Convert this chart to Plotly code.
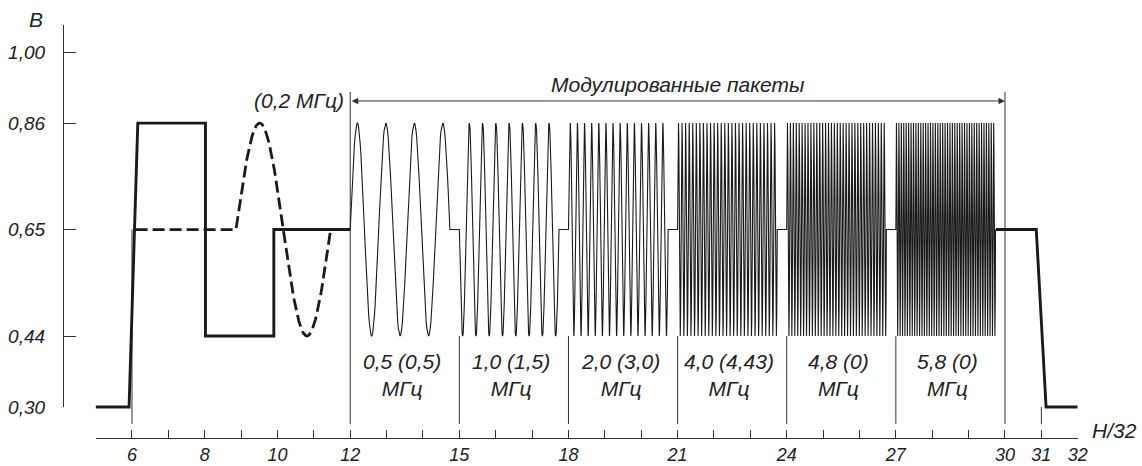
import numpy as np
import plotly.graph_objects as go

# ---------------- data ----------------
y_tick_vals = [0.30, 0.44, 0.65, 0.86, 1.00]
y_tick_text = ["0,30", "0,44", "0,65", "0,86", "1,00"]
x_tick_vals = list(range(5, 33))
x_labeled = [6, 8, 10, 12, 15, 18, 21, 24, 27, 30, 31, 32]

# thick solid signal (luminance steps) before and after packets
solid_start_x = [5.0, 5.92, 6.16, 8.02, 8.02, 9.9, 9.9, 12.0]
solid_start_y = [0.30, 0.30, 0.86, 0.86, 0.44, 0.44, 0.65, 0.65]
solid_end_x = [29.75, 30.86, 31.13, 32.0]
solid_end_y = [0.65, 0.65, 0.30, 0.30]

# dashed 0.2 MHz burst
dash_flat_x = [6.1, 8.86]
dash_level = 0.65
dash_sine_start = 8.86
dash_sine_period = 2.6
dash_sine_amp = 0.21

# modulated packets
packet_start = [12, 15, 18, 21, 24, 27]
packet_len = 2.74
packet_cycles = [3.5, 7.5, 14, 28, 34, 41]
packet_sign = [1, -1, 1, 1, 1, 1]
packet_level = 0.65
packet_amp = 0.21
packet_labels = ["0,5 (0,5)", "1,0 (1,5)", "2,0 (3,0)", "4,0 (4,43)", "4,8 (0)", "5,8 (0)"]

# thin vertical dividers
divider_x = [6, 12, 15, 18, 21, 24, 27, 30, 31]
divider_top = [0.65, 0.9213, 0.44, 0.44, 0.44, 0.44, 0.44, 0.9213, 0.30]
divider_bottom = 0.2665

arrow_y = 0.9036

# ---------------- geometry ----------------
W, H = 1142, 466
X0PX, XSCALE = 95.6, 36.375
Y030PX, YSCALE = 407.0, 507.0
XAXIS_PX = 438
x_dom = [X0PX / W, (X0PX + 27 * XSCALE) / W]
y_bot = 0.30 - (XAXIS_PX - Y030PX) / YSCALE
y_top = 0.30 + (Y030PX - 25) / YSCALE
y_dom = [(H - XAXIS_PX) / H, (H - 25) / H]
y2_dom = [(H - Y030PX) / H, (H - 25) / H]

FONT = "Liberation Sans, Arial, sans-serif"
TXT = "#222222"
fs_tick = 19
fs_xtick = 18
fs_ann = 21

# ---------------- build curves ----------------
pk_x, pk_y = [], []
for i, s in enumerate(packet_start):
    n = int(packet_cycles[i] * 48) + 1
    xs = np.linspace(s, s + packet_len, n)
    ys = packet_level + packet_sign[i] * packet_amp * np.sin(
        2 * np.pi * packet_cycles[i] * (xs - s) / packet_len)
    pk_x.extend(xs.tolist())
    pk_y.extend(ys.tolist())
    if i + 1 < len(packet_start):
        pk_x.append(packet_start[i + 1])
        pk_y.append(packet_level)

ds_x = np.linspace(dash_sine_start, dash_sine_start + dash_sine_period, 120)
ds_y = dash_level + dash_sine_amp * np.sin(2 * np.pi * (ds_x - dash_sine_start) / dash_sine_period)
dash_x = [dash_flat_x[0]] + ds_x.tolist()
dash_y = [dash_level] + ds_y.tolist()

dv_x, dv_y = [], []
for xv, top in zip(divider_x, divider_top):
    dv_x += [xv, xv, None]
    dv_y += [top, divider_bottom, None]

fig = go.Figure()
fig.add_trace(go.Scatter(x=dv_x, y=dv_y, mode="lines",
                         line=dict(color="#333333", width=1), hoverinfo="skip"))
fig.add_trace(go.Scatter(x=pk_x, y=pk_y, mode="lines",
                         line=dict(color="#1a1a1a", width=1.1), hoverinfo="skip"))
fig.add_trace(go.Scatter(x=dash_x, y=dash_y, mode="lines",
                         line=dict(color="#1a1a1a", width=2.8, dash="12px,5px"), hoverinfo="skip"))
fig.add_trace(go.Scatter(x=solid_start_x, y=solid_start_y, mode="lines",
                         line=dict(color="#1a1a1a", width=2.9), hoverinfo="skip"))
fig.add_trace(go.Scatter(x=solid_end_x, y=solid_end_y, mode="lines",
                         line=dict(color="#1a1a1a", width=2.9), hoverinfo="skip"))
# dummy trace to create the left value axis subplot
fig.add_trace(go.Scatter(x=[None], y=[None], yaxis="y2", hoverinfo="skip"))

def afont(size):
    return dict(family=FONT, size=size, color=TXT, style="italic")

annotations = []
annotations.append(dict(x=30, y=arrow_y, ax=12, ay=arrow_y, xref="x", yref="y",
                        axref="x", ayref="y", text="", showarrow=True,
                        arrowhead=2, startarrowhead=2, arrowside="end+start",
                        arrowsize=1.3, startarrowsize=1.3, arrowwidth=1, arrowcolor="#333333"))
annotations.append(dict(x=21.0, y=0.937, xref="x", yref="y", text="Модулированные пакеты",
                        xanchor="center", yanchor="middle",
                        showarrow=False, font=afont(fs_ann)))
annotations.append(dict(x=10.6, y=0.9055, xref="x", yref="y", text="(0,2 МГц)",
                        xanchor="center", yanchor="middle",
                        showarrow=False, font=afont(fs_ann)))
for s, lab in zip(packet_start, packet_labels):
    annotations.append(dict(x=s + 1.42, y=0.363, xref="x", yref="y", text=lab + "<br>МГц",
                            xanchor="center", yanchor="middle",
                            showarrow=False, align="center", font=afont(fs_ann)))
annotations.append(dict(x=36 / W, y=(H - 20) / H, xref="paper", yref="paper", text="В",
                        xanchor="center", yanchor="middle",
                        showarrow=False, font=afont(fs_ann)))
annotations.append(dict(x=1114 / W, y=(H - 430) / H, xref="paper", yref="paper", text="H/32",
                        xanchor="center", yanchor="middle",
                        showarrow=False, font=afont(fs_ann)))

fig.update_layout(
    width=W, height=H,
    margin=dict(l=0, r=0, t=0, b=0),
    paper_bgcolor="white", plot_bgcolor="rgba(0,0,0,0)",
    showlegend=False,
    annotations=annotations,
    xaxis=dict(domain=x_dom, range=[5, 32], anchor="y",
               showgrid=False, zeroline=False, showline=True,
               linecolor="#333333", linewidth=1.2,
               ticks="inside", ticklen=8, tickwidth=1, tickcolor="#333333",
               tickvals=x_tick_vals,
               ticktext=[str(v) if v in x_labeled else "" for v in x_tick_vals],
               ticklabelstandoff=0,
               tickfont=afont(fs_xtick),
               automargin=False),
    yaxis=dict(domain=y_dom, range=[y_bot, y_top], visible=False, automargin=False),
    yaxis2=dict(domain=y2_dom, range=[0.30, y_top], anchor="free", position=63 / W,
                showgrid=False, zeroline=False, showline=True,
                linecolor="#333333", linewidth=1.2,
                ticks="inside", ticklen=12, tickwidth=1, tickcolor="#333333",
                tickvals=y_tick_vals, ticktext=y_tick_text,
                ticklabelstandoff=14,
                tickfont=afont(fs_tick),
                automargin=False),
)

fig.write_html("out.html", config={"displayModeBar": False},
               post_script="document.body.style.margin='0';document.body.style.overflow='hidden';")
